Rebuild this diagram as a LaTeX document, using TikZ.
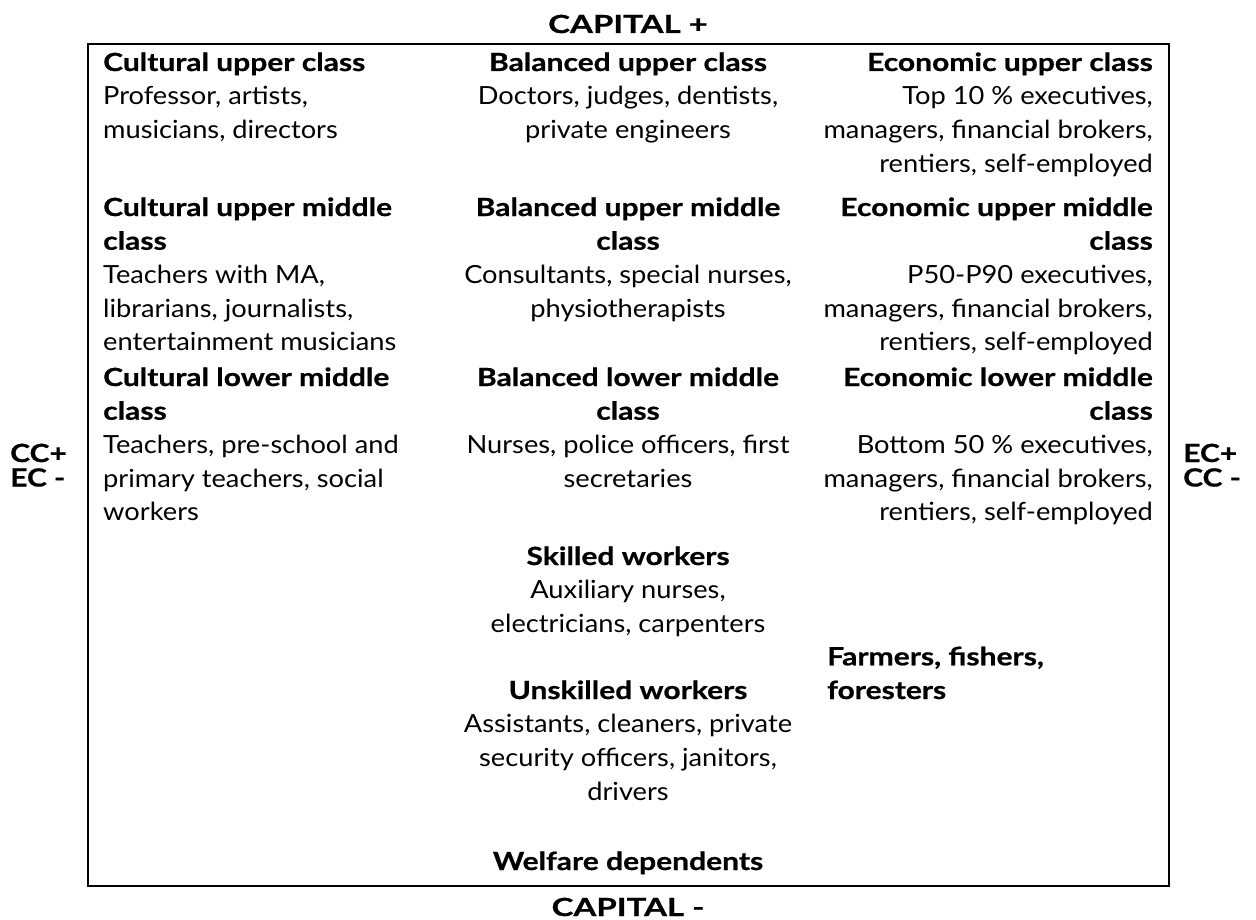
\documentclass[tikz,border=0pt]{standalone}
\usepackage{fontspec}
\setmainfont{Lato}[UprightFeatures={FakeStretch=1.09}, BoldFeatures={FakeStretch=1.2, FakeBold=0.7}]
\newfontfamily\capfont{Lato}[UprightFeatures={FakeStretch=1.3}, BoldFeatures={FakeStretch=1.32, FakeBold=0.7}]
\begin{document}
\begin{tikzpicture}[x=1pt,y=-1pt,
  txt/.style={inner sep=0pt, font=\fontsize{25}{33.7}\selectfont},
  lt/.style={txt, align=left, anchor=base west},
  ct/.style={txt, align=center, anchor=base},
  rt/.style={txt, align=right, anchor=base east},
  ax/.style={inner sep=0pt, font=\fontsize{25}{24.5}\selectfont\bfseries},
  capax/.style={inner sep=0pt, font=\capfont\fontsize{25}{24.5}\selectfont\bfseries},
  frame/.style={line width=2pt}]
\useasboundingbox (0,0) rectangle (1256,920);
\draw[frame] (88,44) rectangle (1169,886);
% axis labels (anchor = baseline of last line)
\node[capax, anchor=base] (ctop) at (628,33) {CAPITAL +};
\node[capax, anchor=base] (cbot) at (628,916) {CAPITAL -};
\node[ax, align=left, anchor=base west] (lax) at (10,486.5) {CC+\\EC -};
\node[ax, align=left, anchor=base west] (rax) at (1183,486.5) {EC+\\CC -};
% left column
\node[lt] (c1) at (103,138.4) {\textbf{Cultural upper class}\\Professor, artists,\\musicians, directors};
\node[lt] (c2) at (103,350.8) {\textbf{Cultural upper middle}\\\textbf{class}\\Teachers with MA,\\librarians, journalists,\\entertainment musicians};
\node[lt] (c3) at (103,520.8) {\textbf{Cultural lower middle}\\\textbf{class}\\Teachers, pre-school and\\primary teachers, social\\workers};
% middle column
\node[ct] (b1) at (628,138.4) {\textbf{Balanced upper class}\\Doctors, judges, dentists,\\private engineers};
\node[ct] (b2) at (628,317.1) {\textbf{Balanced upper middle}\\\textbf{class}\\Consultants, special nurses,\\physiotherapists};
\node[ct] (b3) at (628,487.1) {\textbf{Balanced lower middle}\\\textbf{class}\\Nurses, police officers, first\\secretaries};
\node[ct] (sk) at (628,632.4) {\textbf{Skilled workers}\\Auxiliary nurses,\\electricians, carpenters};
\node[ct] (un) at (628,800.1) {\textbf{Unskilled workers}\\Assistants, cleaners, private\\security officers, janitors,\\drivers};
\node[ct] (wd) at (628,870) {\textbf{Welfare dependents}};
% right column
\node[rt] (e1) at (1153,172.1) {\textbf{Economic upper class}\\Top 10 \% executives,\\managers, financial brokers,\\rentiers, self-employed};
\node[rt] (e2) at (1153,350.8) {\textbf{Economic upper middle}\\\textbf{class}\\P50-P90 executives,\\managers, financial brokers,\\rentiers, self-employed};
\node[rt] (e3) at (1153,520.8) {\textbf{Economic lower middle}\\\textbf{class}\\Bottom 50 \% executives,\\managers, financial brokers,\\rentiers, self-employed};
\node[lt] (ff) at (827,699) {\textbf{Farmers, fishers,}\\\textbf{foresters}};
\end{tikzpicture}
\end{document}
